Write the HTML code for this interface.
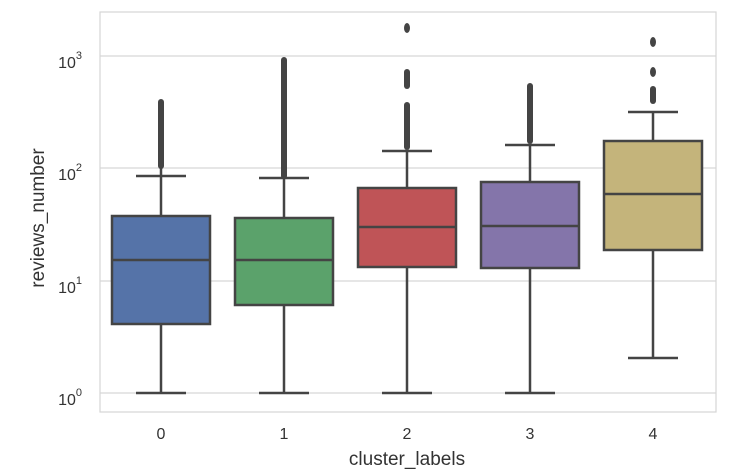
<!DOCTYPE html>
<html><head><meta charset="utf-8"><style>body{margin:0;background:#fff}svg{display:block}text{font-family:"Liberation Sans",sans-serif;fill:#333}</style></head><body>
<svg width="746" height="474" viewBox="0 0 746 474">
<rect x="100" y="12" width="616" height="400" fill="#fff" stroke="#d6d6d6" stroke-width="1.2"/>
<g stroke="#d6d6d6" stroke-width="1.2">
<line x1="100" x2="716" y1="56" y2="56"/><line x1="100" x2="716" y1="168" y2="168"/>
<line x1="100" x2="716" y1="281" y2="281"/><line x1="100" x2="716" y1="393" y2="393"/>
</g>
<g font-size="16" text-anchor="end">
<text x="82" y="68">10<tspan font-size="11" dy="-9">3</tspan></text>
<text x="82" y="180">10<tspan font-size="11" dy="-9">2</tspan></text>
<text x="82" y="293">10<tspan font-size="11" dy="-9">1</tspan></text>
<text x="82" y="405">10<tspan font-size="11" dy="-9">0</tspan></text>
</g>
<g font-size="16" text-anchor="middle">
<text x="161" y="439">0</text><text x="284" y="439">1</text><text x="407" y="439">2</text><text x="530" y="439">3</text><text x="653" y="439">4</text>
<text x="407" y="465" font-size="19">cluster_labels</text>
<text transform="translate(44,218) rotate(-90)" font-size="19">reviews_number</text>
</g>
<g stroke="#444" stroke-width="2.5">
<line x1="161" x2="161" y1="100" y2="216"/><line x1="161" x2="161" y1="324" y2="393"/>
<line x1="136" x2="186" y1="176" y2="176"/><line x1="136" x2="186" y1="393" y2="393"/>
<rect x="112" y="216" width="98" height="108" fill="#5573a8"/><line x1="112" x2="210" y1="260" y2="260"/>
<line x1="284" x2="284" y1="58" y2="218"/><line x1="284" x2="284" y1="305" y2="393"/>
<line x1="259" x2="309" y1="178" y2="178"/><line x1="259" x2="309" y1="393" y2="393"/>
<rect x="235" y="218" width="98" height="87" fill="#5ba26b"/><line x1="235" x2="333" y1="260" y2="260"/>
<line x1="407" x2="407" y1="151" y2="188"/><line x1="407" x2="407" y1="267" y2="393"/>
<line x1="382" x2="432" y1="151" y2="151"/><line x1="382" x2="432" y1="393" y2="393"/>
<rect x="358" y="188" width="98" height="79" fill="#bf5457"/><line x1="358" x2="456" y1="227" y2="227"/>
<line x1="530" x2="530" y1="145" y2="182"/><line x1="530" x2="530" y1="268" y2="393"/>
<line x1="505" x2="555" y1="145" y2="145"/><line x1="505" x2="555" y1="393" y2="393"/>
<rect x="481" y="182" width="98" height="86" fill="#8475aa"/><line x1="481" x2="579" y1="226" y2="226"/>
<line x1="653" x2="653" y1="112" y2="141"/><line x1="653" x2="653" y1="250" y2="358"/>
<line x1="628" x2="678" y1="112" y2="112"/><line x1="628" x2="678" y1="358" y2="358"/>
<rect x="604" y="141" width="98" height="109" fill="#c4b47b"/><line x1="604" x2="702" y1="194" y2="194"/>
</g>
<g stroke="#444" stroke-width="6" stroke-linecap="round">
<line x1="161" x2="161" y1="102" y2="166"/>
<line x1="284" x2="284" y1="60" y2="176"/>
<line x1="407" x2="407" y1="72" y2="86"/><line x1="407" x2="407" y1="105" y2="147"/>
<line x1="530" x2="530" y1="86" y2="141"/>
<line x1="653" x2="653" y1="89" y2="101"/>
</g>
<g fill="#444">
<ellipse cx="407" cy="28" rx="3" ry="5"/><ellipse cx="653" cy="42" rx="3" ry="5"/><ellipse cx="653" cy="72" rx="3" ry="5"/>
</g>
</svg>
</body></html>
